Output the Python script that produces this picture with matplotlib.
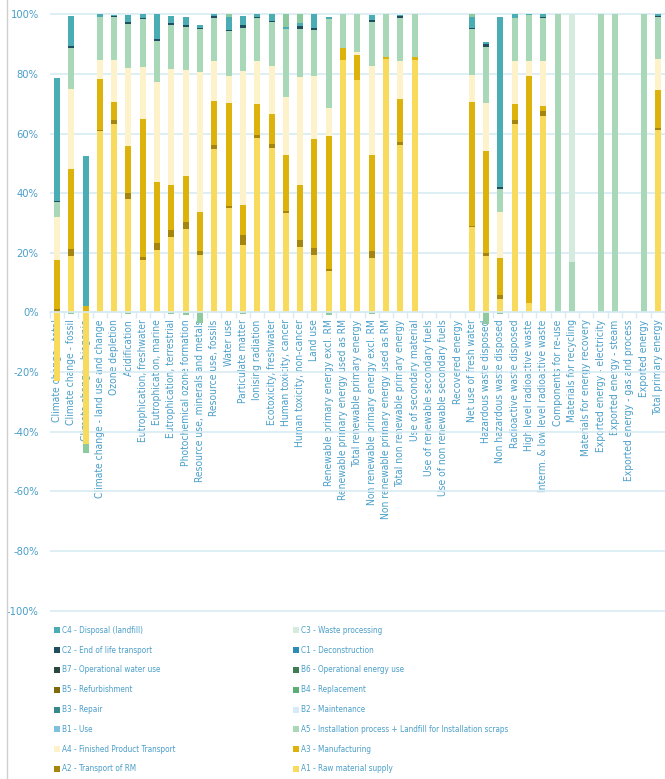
import numpy as np
import matplotlib
matplotlib.use("Agg")
import matplotlib.pyplot as plt
from matplotlib.lines import Line2D
from matplotlib.patches import Rectangle

plt.rcParams['font.family'] = ['DejaVu Sans']
plt.rcParams['font.stretch'] = 'condensed'

categories = [
    "Climate change - total", "Climate change - fossil", "Climate change - biogenic",
    "Climate change - land use and change", "Ozone depletion", "Acidification",
    "Eutrophication, freshwater", "Eutrophication, marine", "Eutrophication, terrestrial",
    "Photochemical ozone formation", "Resource use, minerals and metals",
    "Resource use, fossils", "Water use", "Particulate matter", "Ionising radiation",
    "Ecotoxicity, freshwater", "Human toxicity, cancer", "Human toxicity, non-cancer",
    "Land use", "Renewable primary energy excl. RM", "Renewable primary energy used as RM",
    "Total renewable primary energy", "Non renewable primary energy excl. RM",
    "Non renewable primary energy used as RM", "Total non renewable primary energy",
    "Use of secondary material", "Use of renewable secondary fuels",
    "Use of non renewable secondary fuels", "Recovered energy", "Net use of fresh water",
    "Hazardous waste disposed", "Non hazardous waste disposed", "Radioactive waste disposed",
    "High level radioactive waste", "Interm. & low level radioactive waste",
    "Components for re-use", "Materials for recycling", "Materials for energy recovery",
    "Exported energy - electricity", "Exported energy - steam",
    "Exported energy - gas and process", "Exported energy", "Total primary energy",
]

# share of each life cycle module, %
a1 = [-23, 19, -44, 60.8, 63.3, 38.1, 17.5, 21, 25.3, 28, 19.4, 54.9, 35, 22.7, 58.5,
      55.2, 33.4, 21.9, 19.4, 13.9, 84.7, 78, 18.3, 85, 56.2, 84.7, 0, 0, 0, 28.6,
      19, 4.4, 63.3, 3.3, 66, 0, 0, 0, 0, 0, 0, 0, 61.2]
a2 = [1.3, 2.3, 0, 0.4, 1.3, 1.9, 1.1, 2.2, 2.4, 2.4, 1.3, 1.1, 0.6, 3.4, 1.1,
      1.4, 0.6, 2.5, 2.2, 0.7, 0, 0, 2.4, 0, 0.9, 0, 0, 0, 0, 0.4,
      0.9, 1.3, 1.1, 0, 1.4, 0, 0, 0, 0, 0, 0, 0, 0.8]
a3 = [16.4, 26.9, 2, 17, 6.1, 15.7, 46.2, 20.4, 14.9, 15.2, 12.9, 15, 34.8, 10, 10.4,
      10, 18.8, 18.4, 36.6, 44.6, 4.1, 8.4, 32.2, 0.8, 14.5, 0.9, 0, 0, 0, 41.5,
      34.4, 12.7, 5.4, 76, 2, 0, 0, 0, 0, 0, 0, 0, 12.7]
a4 = [14.3, 26.7, 0, 6.4, 13.9, 26.4, 17.4, 33.6, 39.1, 35.8, 47.2, 13.4, 8.9, 44.9, 14.4,
      16.2, 19.4, 36.3, 21.1, 9.5, 0, 0.8, 29.6, 0, 12.8, 0, 0, 0, 0, 9.2,
      16.1, 15.3, 14.6, 5.1, 15, 0, 0, 0, 0, 0, 0, 0, 10.2]
a5 = [5.1, 13.7, 0, 14.6, 14.4, 14.5, 16.1, 13.9, 14.6, 14.4, 14.3, 14.5, 15.1, 14.5, 14.5,
      14.6, 22.8, 16, 15.5, 29.6, 11.2, 12.8, 14.8, 14.2, 14.5, 14.4, 0, 0, 0, 15.3,
      18.7, 7.6, 14.5, 15.2, 14.5, 100, 16.8, 0, 100, 100, 0, 100, 14.3]
c2 = [0.4, 0.8, 0, 0, 0.5, 0.7, 0.4, 0.5, 0.9, 0.6, 0.4, 0.5, 0.4, 0.9, 0.3,
      0.5, 0, 1.1, 0.5, 0, 0, 0, 0.8, 0, 0.4, 0, 0, 0, 0, 0.3,
      0.8, 0.8, 0, 0, 0.3, 0, 0, 0, 0, 0, 0, 0, 0.3]
c3 = [0, 0, 0, 0, 0, 0, 0, 0, 0, 0, 0, 0, 0, 0, 0,
      0, 0, 0, 0, 0, 0, 0, 0, 0, 0, 0, 0, 0, 0, 0,
      0, 0, 0, 0, 0, 0, 83.2, 0, 0, 0, 0, 0, 0]
c4 = [41.1, 10, 50.6, 0.8, 0.3, 2.3, 1.5, 8.4, 2.2, 2.6, 0.9, 0.6, 4.4, 3, 0.8,
      2.1, 0.6, 0.8, 4.7, 0.7, 0, 0, 1.7, 0, 0.6, 0, 0, 0, 0, 3.7,
      0.8, 56.9, 1.1, 0.4, 0.8, 0, 0, 0, 0, 0, 0, 0, 0.5]
# benefits beyond the system boundary (not listed in the legend)
d = [0, -0.5, -3, 0, 0, -0.5, 0, 0, -0.5, -1, -3.5, 0, 0.8, -0.5, 0,
     0, 4.4, 3, 0, -1, 0, 0, -0.5, 0, 0, 0, 0, 0, 0, 1,
     -4, -0.5, 0, 0, 0, 0, 0, 0, 0, 0, 0, 0, 0]

module_names = [
    "C4 - Disposal (landfill)", "C3 - Waste processing",
    "C2 - End of life transport", "C1 - Deconstruction",
    "B7 - Operational water use", "B6 - Operational energy use",
    "B5 - Refurbishment", "B4 - Replacement",
    "B3 - Repair", "B2 - Maintenance",
    "B1 - Use", "A5 - Installation process + Landfill for Installation scraps",
    "A4 - Finished Product Transport", "A3 - Manufacturing",
    "A2 - Transport of RM", "A1 - Raw material supply",
]
module_colors = {
    "C4": "#4aadb4", "C3": "#d5ebdd", "C2": "#1f4e5f", "C1": "#2b8db5",
    "B7": "#2a4740", "B6": "#3e7d52", "B5": "#7c6a0c", "B4": "#59ae76",
    "B3": "#35898a", "B2": "#d6ebf5", "B1": "#7ec0dd", "A5": "#a9d8b8",
    "A4": "#fef2cb", "A3": "#ddb20a", "A2": "#a5850e", "A1": "#f8da5c",
}
d_color = "#8dcb9f"
txt_color = "#4a9fc9"
grid_color = "#d8ebf3"

stack = [(a1, module_colors["A1"]), (a2, module_colors["A2"]), (a3, module_colors["A3"]),
         (a4, module_colors["A4"]), (a5, module_colors["A5"]), (c2, module_colors["C2"]),
         (c3, module_colors["C3"]), (c4, module_colors["C4"]), (d, d_color)]

W, H = 665, 779
fig = plt.figure(figsize=(W / 100, H / 100), dpi=100)
ax = fig.add_axes([49.8 / W, (H - 613.5) / H, 615.2 / W, 602.2 / H])

n = len(categories)
x = np.arange(n)
pos_base = np.zeros(n)
neg_base = np.zeros(n)
for vals, color in stack:
    v = np.array(vals, dtype=float)
    base = np.where(v >= 0, pos_base, neg_base)
    ax.bar(x, v, 0.42, bottom=base, color=color, linewidth=0)
    pos_base += np.clip(v, 0, None)
    neg_base += np.clip(v, None, 0)

ax.set_xlim(-0.5, -0.5 + 615.2 / 14.36)
ax.set_ylim(-101, 101)
yt = np.arange(-100, 101, 20)
ax.set_yticks(yt)
ax.set_yticklabels([f"{v}%" for v in yt], color=txt_color, fontsize=8)
ax.tick_params(axis='y', length=0, pad=8)
ax.grid(axis='y', color=grid_color, linewidth=1.2)
ax.set_axisbelow(True)

for s in ['top', 'right', 'left']:
    ax.spines[s].set_visible(False)
ax.spines['bottom'].set_position(('data', 0))
ax.spines['bottom'].set_color(grid_color)
ax.spines['bottom'].set_linewidth(1.2)
ax.set_xticks(x)
ax.set_xticklabels(categories, rotation=90, color=txt_color, fontsize=7.4, va='top')
ax.set_xticks(np.arange(n + 1) - 0.5, minor=True)
ax.tick_params(axis='x', which='major', length=0, pad=5)
ax.tick_params(axis='x', which='minor', length=4, color=grid_color, width=1)

fig.add_artist(Line2D([7 / W, 7 / W], [0, 1], color="#cfcfcf", linewidth=1))

# legend, two columns, filled row by row
for i, name in enumerate(module_names):
    col, row = i % 2, i // 2
    xm = 54 if col == 0 else 293
    yc = 630.3 + row * 19.8
    fig.add_artist(Rectangle((xm / W, (H - yc - 3) / H), 6 / W, 6 / H,
                             color=module_colors[name[:2]], linewidth=0))
    fig.text((xm + 8) / W, (H - yc) / H, name, color=txt_color, fontsize=5.9, va='center')

fig.savefig("out.png", dpi=100)
